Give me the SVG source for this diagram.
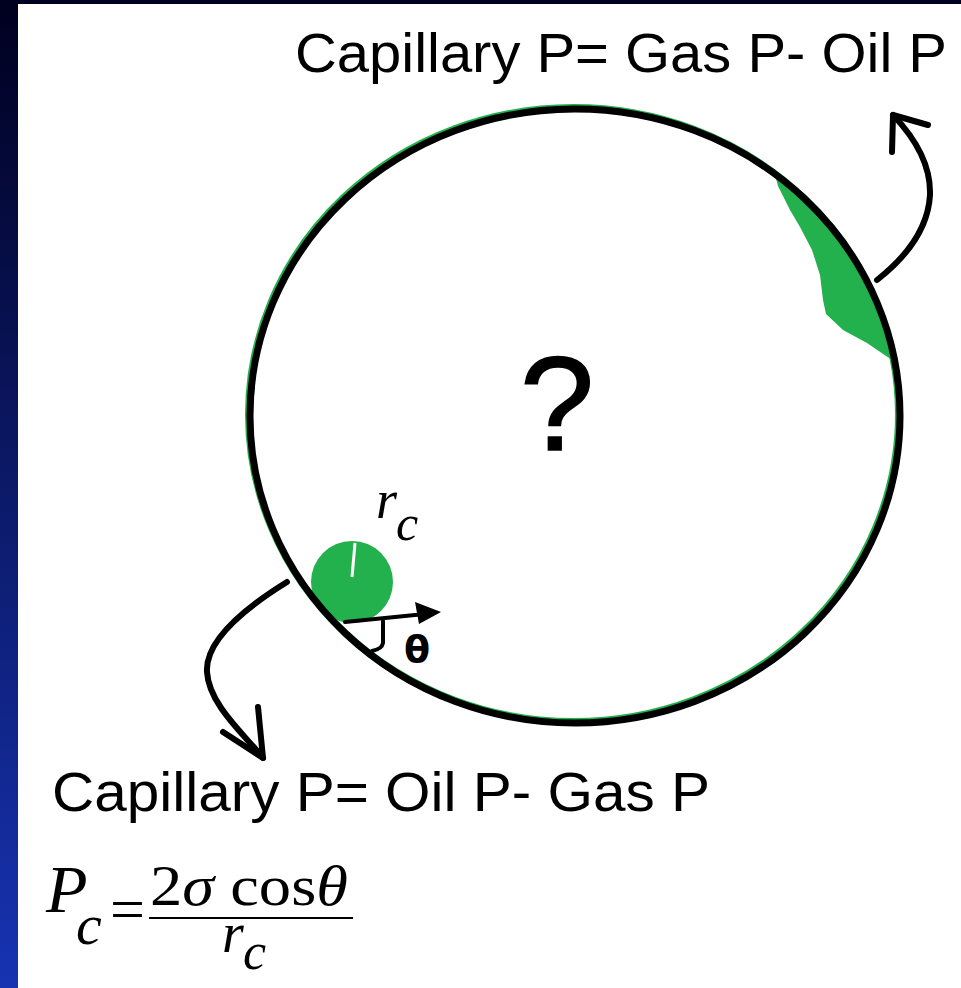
<svg xmlns="http://www.w3.org/2000/svg" width="961" height="988" viewBox="0 0 961 988">
<style>
.sans{font-family:"Liberation Sans",Arial,sans-serif;fill:#000}
.math{font-family:"Liberation Serif","Times New Roman",serif;fill:#000}
.it{font-style:italic}
.ink{fill:none;stroke:#000;stroke-linecap:round;stroke-linejoin:round}
</style>
<defs>
<linearGradient id="bg" x1="0" y1="0" x2="0" y2="1">
<stop offset="0" stop-color="#00001f"/>
<stop offset="1" stop-color="#1733b2"/>
</linearGradient>
<clipPath id="pore"><ellipse cx="575" cy="416" rx="325" ry="307"/></clipPath>
</defs>
<rect x="0" y="0" width="961" height="988" fill="url(#bg)"/>
<rect x="18" y="4" width="943" height="984" fill="#fff"/>

<g id="pore-body">
<path d="M778,186 L790,210 L800,227 L812,250 L820,275 L823,300 L826,314 L843,330 L867,343 L892,360 L930,360 L930,120 L760,120 Z" fill="#22b14c" clip-path="url(#pore)"/>
<circle cx="352" cy="582" r="41" fill="#22b14c" clip-path="url(#pore)"/>
<line x1="355" y1="543" x2="352" y2="577" stroke="#fff" stroke-width="3"/>
<ellipse cx="573.5" cy="414.5" rx="325" ry="307" fill="none" stroke="#22b14c" stroke-width="7"/>
<ellipse cx="575" cy="416" rx="325" ry="307" fill="none" stroke="#000" stroke-width="7"/>
<text class="sans" x="557" y="450" font-size="134" text-anchor="middle" stroke="#000" stroke-width="1.5">?</text>
</g>

<g id="radius-label">
<text class="math it" x="376" y="518" font-size="54">r</text>
<text class="math it" x="396" y="540" font-size="50">c</text>
</g>

<g id="contact-angle">
<path class="ink" d="M383,621 L383,643 Q382,649 372,651" stroke-width="4"/>
<text x="417" y="662" font-family="'DejaVu Sans',sans-serif" font-weight="bold" font-size="38" text-anchor="middle">θ</text>
</g>

<g id="top-label">
<text class="sans" x="295" y="72" font-size="56" textLength="652" lengthAdjust="spacingAndGlyphs">Capillary P= Gas P- Oil P</text>
</g>

<g id="bottom-label">
<text class="sans" x="52" y="811" font-size="56" textLength="658" lengthAdjust="spacingAndGlyphs">Capillary P= Oil P- Gas P</text>
</g>

<g id="formula">
<text class="math it" x="46" y="912" font-size="68">P</text>
<text class="math it" x="76" y="944" font-size="58">c</text>
<text class="math" x="110" y="930" font-size="62">=</text>
<text class="math" x="150" y="905" font-size="58" textLength="198" lengthAdjust="spacingAndGlyphs">2<tspan font-style="italic">σ</tspan> cos<tspan font-style="italic">θ</tspan></text>
<line x1="149" y1="918" x2="353" y2="918" stroke="#000" stroke-width="2"/>
<text class="math it" x="222" y="952" font-size="56">r</text>
<text class="math it" x="243" y="969" font-size="52">c</text>
</g>

<g id="connectors">
<path class="ink" stroke-width="6" d="M877,280 C905,258 928,230 930,195 C931,165 915,138 893,115"/>
<path class="ink" stroke-width="6" d="M892,152 L893,115 L928,125"/>
<path class="ink" stroke-width="6" d="M287,582 C245,608 205,640 207,672 C209,705 245,735 263,758"/>
<path class="ink" stroke-width="6" d="M258,707 L263,758 L223,732"/>
<path class="ink" stroke-width="4" d="M345,622 L425,614"/>
<polygon points="441,612 415,602 419,624" fill="#000"/>
</g>
</svg>
